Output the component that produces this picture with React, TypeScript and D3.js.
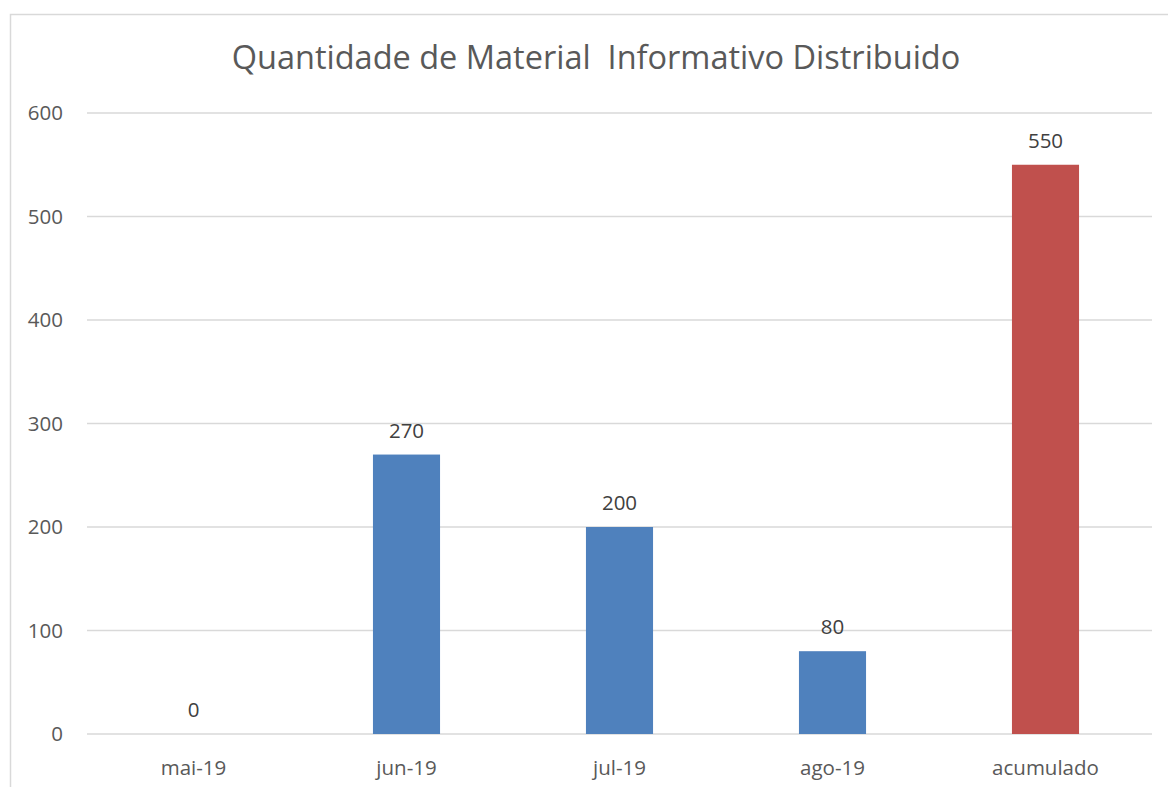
import React from "react";
import * as d3 from "d3";

const categories = ["mai-19", "jun-19", "jul-19", "ago-19", "acumulado"];
const values = [0, 270, 200, 80, 550];
const barColors = ["#4F81BD", "#4F81BD", "#4F81BD", "#4F81BD", "#C0504D"];
const yTicks = [0, 100, 200, 300, 400, 500, 600];
const title = "Quantidade de Material  Informativo Distribuido";

const W = 1168;
const H = 787;
const FONT = "'Open Sans', Lato, sans-serif";

export default function App() {
  const x = d3
    .scaleBand<string>()
    .domain(categories)
    .range([87, 1152])
    .paddingInner(0.685)
    .paddingOuter(0.3425);
  const y = d3.scaleLinear().domain([0, 600]).range([734, 113]);

  return (
    <svg
      width={W}
      height={H}
      style={{ position: "absolute", left: 0, top: 0, background: "#fff" }}
    >
      <rect x={10.5} y={14.5} width={1170} height={790} fill="#fff" stroke="#D9D9D9" strokeWidth={1.5} />
      <text
        x={596}
        y={69}
        textAnchor="middle"
        fontFamily={FONT}
        fontSize={32.5}
        fill="#595959"
        style={{ whiteSpace: "pre" }}
      >
        {title}
      </text>
      {yTicks.map((t) => (
        <g key={t}>
          <line x1={87} x2={1152} y1={y(t)} y2={y(t)} stroke="#D9D9D9" strokeWidth={1.3} />
          <text
            x={63}
            y={y(t)}
            dy="0.36em"
            textAnchor="end"
            fontFamily={FONT}
            fontSize={20.5}
            fill="#595959"
          >
            {t}
          </text>
        </g>
      ))}
      {categories.map((c, i) => (
        <g key={c}>
          {values[i] > 0 && (
            <rect
              x={x(c)!}
              y={y(values[i])}
              width={x.bandwidth()}
              height={y(0) - y(values[i])}
              fill={barColors[i]}
            />
          )}
          <text
            x={x(c)! + x.bandwidth() / 2}
            y={y(values[i]) - 17}
            textAnchor="middle"
            fontFamily={FONT}
            fontSize={20.5}
            fill="#404040"
          >
            {values[i]}
          </text>
          <text
            x={x(c)! + x.bandwidth() / 2}
            y={775}
            textAnchor="middle"
            fontFamily={FONT}
            fontSize={20.5}
            fill="#595959"
          >
            {c}
          </text>
        </g>
      ))}
    </svg>
  );
}
